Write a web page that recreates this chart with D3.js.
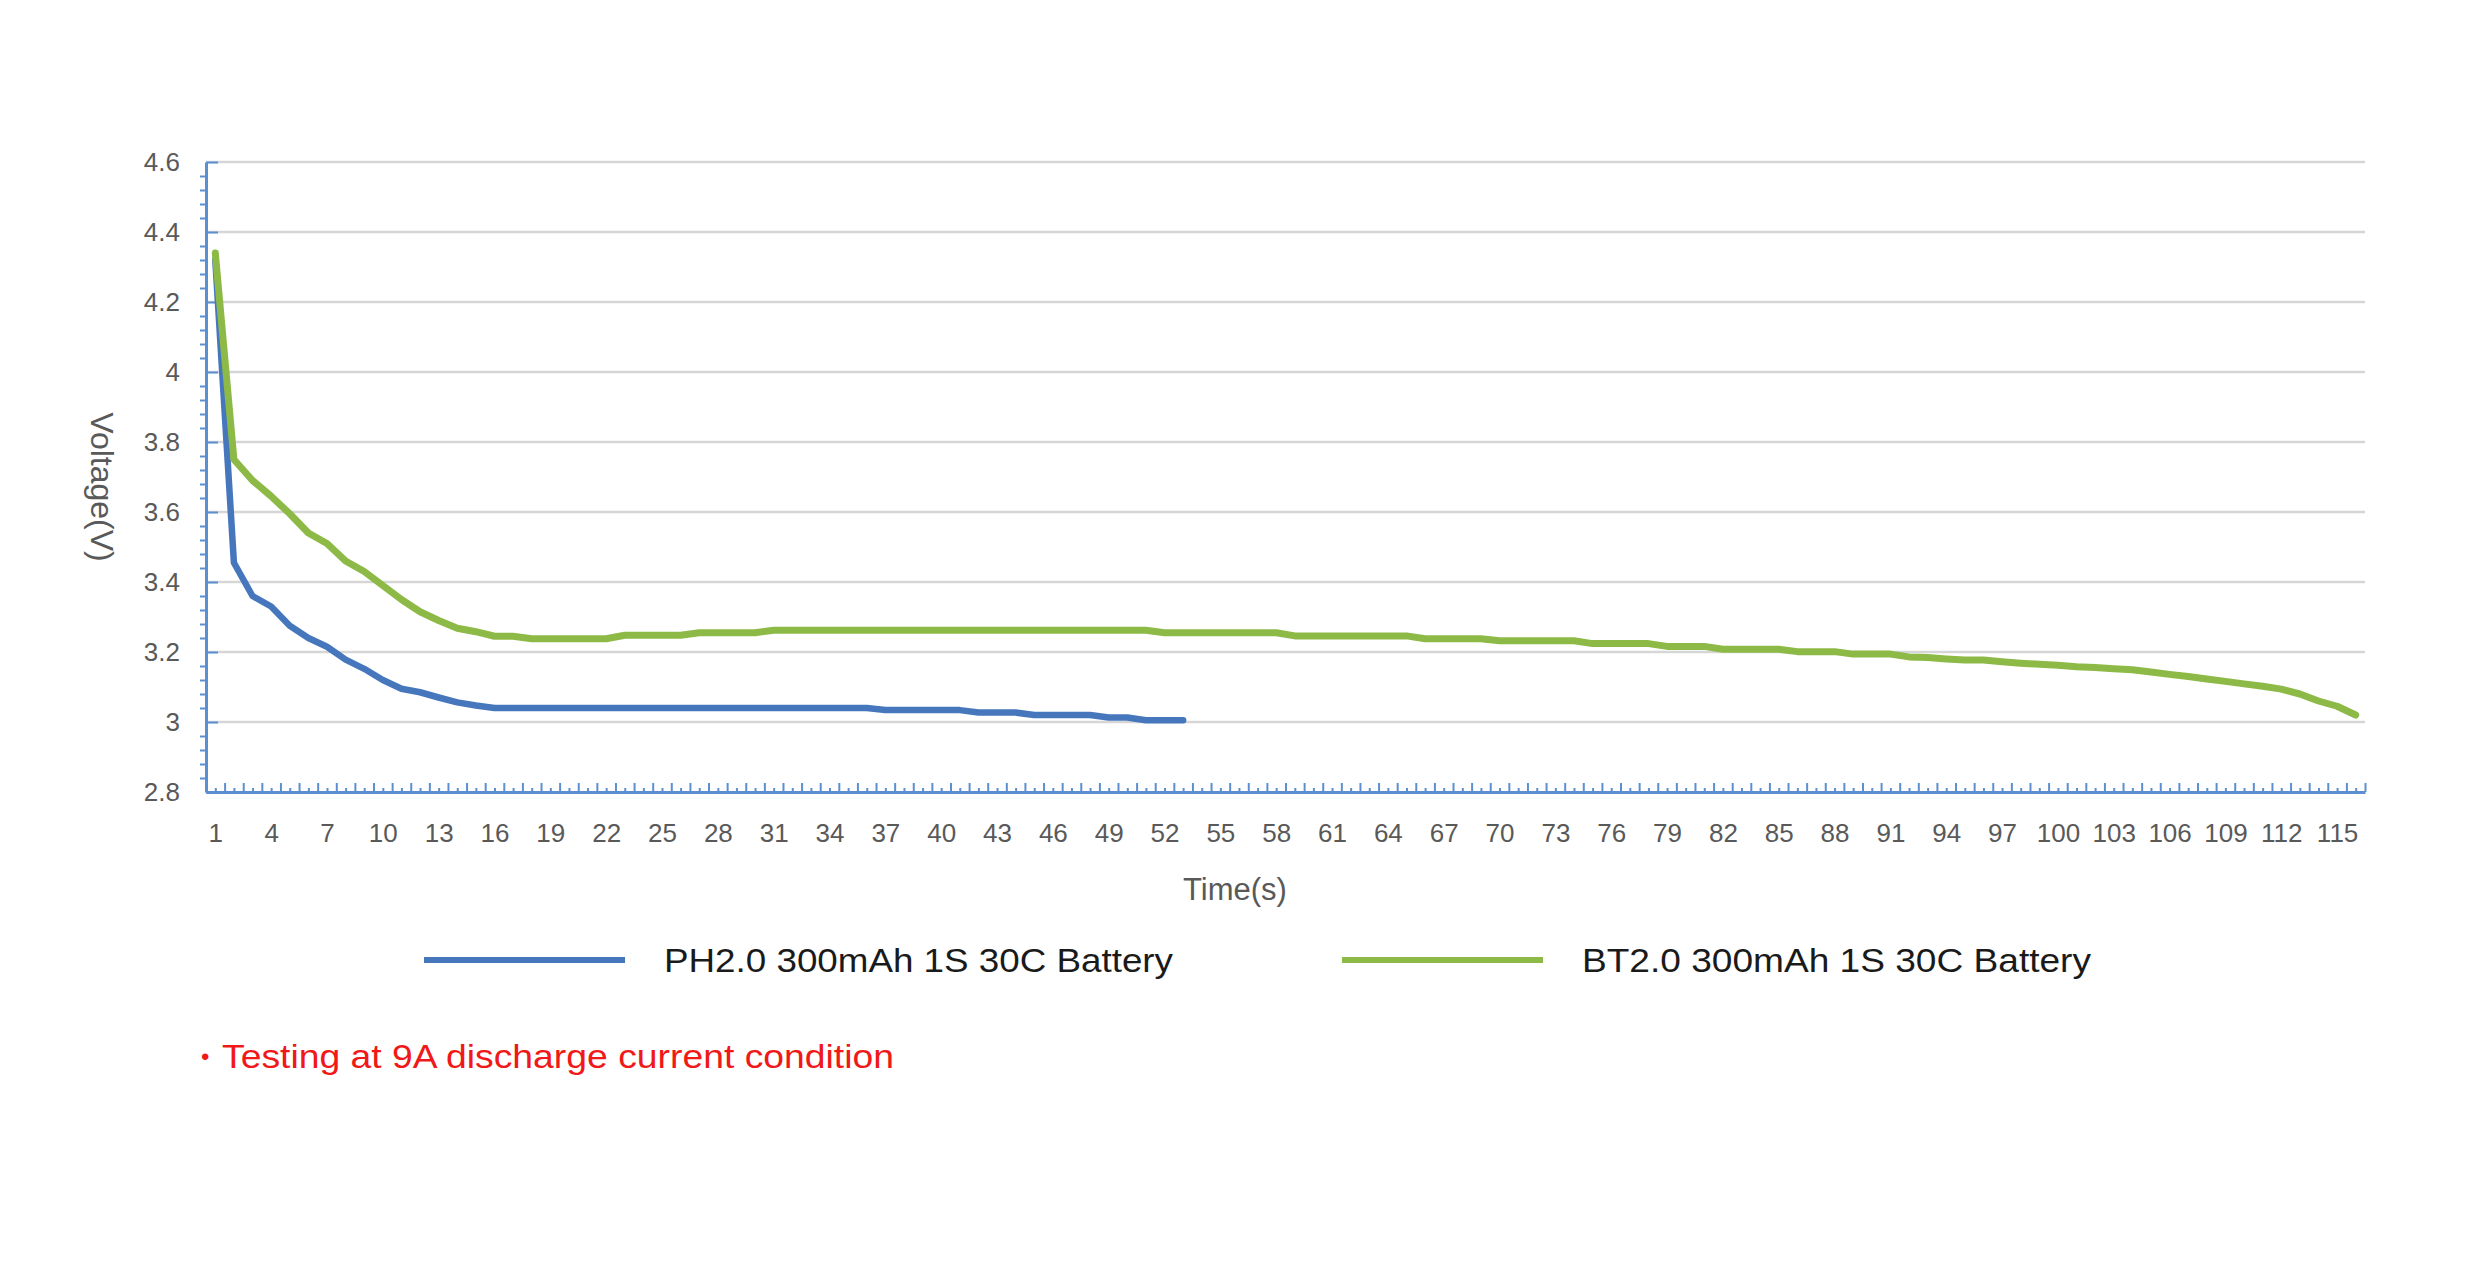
<!DOCTYPE html>
<html>
<head>
<meta charset="utf-8">
<script src="https://d3js.org/d3.v7.min.js"></script>
<style>
  body { margin: 0; background: #fff; }
  text { font-family: "Liberation Sans", Arial, sans-serif; }
</style>
</head>
<body>
<svg id="chart"></svg>
<script>
// time axis categories (seconds) and the labels Excel printed every 3rd one
const timeSeconds = d3.range(1, 117);
const xTickLabels = [1, 4, 7, 10, 13, 16, 19, 22, 25, 28, 31, 34, 37, 40, 43, 46, 49, 52, 55, 58,
  61, 64, 67, 70, 73, 76, 79, 82, 85, 88, 91, 94, 97, 100, 103, 106, 109, 112, 115];
const yTickValues = [2.8, 3, 3.2, 3.4, 3.6, 3.8, 4, 4.2, 4.4, 4.6];

const seriesNames = ["PH2.0 300mAh 1S 30C Battery", "BT2.0 300mAh 1S 30C Battery"];

// PH2.0 battery, 53 samples
const ph20Voltage = [
  4.32, 3.455, 3.36, 3.33, 3.275, 3.24, 3.215, 3.178, 3.152, 3.12,
  3.095, 3.085, 3.07, 3.056, 3.047, 3.04, 3.04, 3.04, 3.04, 3.04,
  3.04, 3.04, 3.04, 3.04, 3.04, 3.04, 3.04, 3.04, 3.04, 3.04,
  3.04, 3.04, 3.04, 3.04, 3.04, 3.04, 3.034, 3.034, 3.034, 3.034,
  3.034, 3.027, 3.027, 3.027, 3.02, 3.02, 3.02, 3.02, 3.013, 3.013,
  3.005, 3.005, 3.005
];

// BT2.0 battery, 116 samples
const bt20Voltage = [
  4.34, 3.75, 3.69, 3.645, 3.595, 3.54, 3.51, 3.46, 3.43, 3.39,
  3.35, 3.315, 3.29, 3.268, 3.258, 3.245, 3.245, 3.238, 3.238, 3.238,
  3.238, 3.238, 3.248, 3.248, 3.248, 3.248, 3.255, 3.255, 3.255, 3.255,
  3.262, 3.262, 3.262, 3.262, 3.262, 3.262, 3.262, 3.262, 3.262, 3.262,
  3.262, 3.262, 3.262, 3.262, 3.262, 3.262, 3.262, 3.262, 3.262, 3.262,
  3.262, 3.255, 3.255, 3.255, 3.255, 3.255, 3.255, 3.255, 3.246, 3.246,
  3.246, 3.246, 3.246, 3.246, 3.246, 3.238, 3.238, 3.238, 3.238, 3.232,
  3.232, 3.232, 3.232, 3.232, 3.224, 3.224, 3.224, 3.224, 3.216, 3.216,
  3.216, 3.208, 3.208, 3.208, 3.208, 3.201, 3.201, 3.201, 3.194, 3.194,
  3.194, 3.186, 3.184, 3.18, 3.177, 3.177, 3.172, 3.168, 3.165, 3.162,
  3.158, 3.156, 3.152, 3.149, 3.143, 3.136, 3.13, 3.123, 3.116, 3.109,
  3.102, 3.094, 3.08, 3.06, 3.045, 3.02
];

const width = 2480, height = 1276;
const margin = { top: 162, right: 115, bottom: 484, left: 206 };
const plotRight = width - margin.right;
const plotBottom = height - margin.bottom;

const blue = "#4677bd", green = "#8dba46", axisBlue = "#5b8fd2", labelGrey = "#595959";

const svg = d3.select("#chart").attr("width", width).attr("height", height);

const x = d3.scaleLinear().domain([0.5, timeSeconds.length + 0.5]).range([margin.left, plotRight]);
const y = d3.scaleLinear().domain([2.8, 4.6]).range([plotBottom, margin.top]);

// gridlines
svg.append("g").selectAll("line").data(yTickValues.slice(1)).join("line")
  .attr("x1", margin.left).attr("x2", plotRight)
  .attr("y1", d => y(d)).attr("y2", d => y(d))
  .attr("stroke", "#d6d6d6").attr("stroke-width", 2.5);

// y axis: major ticks point inside, minor ones outside
const yMinor = d3.range(0, 46).map(i => +(2.8 + i * 0.04).toFixed(2)).filter(v => !yTickValues.includes(v));
svg.append("g").attr("transform", `translate(${margin.left},0)`)
  .call(d3.axisLeft(y).tickValues(yMinor).tickSize(6).tickFormat(""))
  .call(g => g.select(".domain").remove());
const yAxis = svg.append("g").attr("transform", `translate(${margin.left},0)`)
  .call(d3.axisLeft(y).tickValues(yTickValues).tickSizeInner(-12).tickSizeOuter(0).tickPadding(26).tickFormat(d3.format("")));
yAxis.selectAll("text").style("font-size", "26px").attr("fill", labelGrey);

// x axis: boundary ticks + centre ticks, labels every 3rd second
const xBounds = d3.range(0, timeSeconds.length + 1).map(i => i + 0.5);
svg.append("g").attr("transform", `translate(0,${plotBottom})`)
  .call(d3.axisBottom(x).tickValues(timeSeconds).tickSize(-4).tickFormat(""))
  .call(g => g.select(".domain").remove());
svg.append("g").attr("transform", `translate(0,${plotBottom})`)
  .call(d3.axisBottom(x).tickValues(xBounds).tickSizeInner(-9).tickSizeOuter(0).tickFormat(""));
svg.append("g").attr("transform", `translate(0,${plotBottom})`)
  .call(d3.axisBottom(x).tickValues(xTickLabels).tickSize(0).tickPadding(32))
  .call(g => g.select(".domain").remove())
  .selectAll("text").style("font-size", "26px").attr("fill", labelGrey);

svg.selectAll(".tick line").attr("stroke", axisBlue).attr("stroke-width", 2);
svg.selectAll(".domain").attr("stroke", axisBlue).attr("stroke-width", 3);

// axis titles
svg.append("text").attr("transform", "translate(91,487) rotate(90)")
  .attr("text-anchor", "middle").style("font-size", "32px").attr("fill", labelGrey)
  .text("Voltage(V)");
svg.append("text").attr("x", 1235).attr("y", 900)
  .attr("text-anchor", "middle").style("font-size", "31px").attr("fill", labelGrey)
  .text("Time(s)");

// lines
const line = d3.line().x((d, i) => x(timeSeconds[i])).y(d => y(d));
svg.append("path").datum(ph20Voltage).attr("d", line)
  .attr("fill", "none").attr("stroke", blue).attr("stroke-width", 6.5)
  .attr("stroke-linejoin", "round").attr("stroke-linecap", "round");
svg.append("path").datum(bt20Voltage).attr("d", line)
  .attr("fill", "none").attr("stroke", green).attr("stroke-width", 7)
  .attr("stroke-linejoin", "round").attr("stroke-linecap", "round");

// legend
const legendItems = [
  { name: seriesNames[0], color: blue, x: 424 },
  { name: seriesNames[1], color: green, x: 1342 }
];
const legend = svg.append("g").attr("transform", "translate(0,960)");
legendItems.forEach(item => {
  legend.append("line").attr("x1", item.x).attr("x2", item.x + 201)
    .attr("stroke", item.color).attr("stroke-width", 6);
  legend.append("text").attr("x", item.x + 240).attr("y", 12)
    .style("font-size", "34px").attr("fill", "#1a1a1a")
    .attr("textLength", 509).attr("lengthAdjust", "spacingAndGlyphs")
    .text(item.name);
});

// note
svg.append("text").attr("x", 201).attr("y", 1065).style("font-size", "24px").attr("fill", "#f01818").text("•");
svg.append("text").attr("x", 222).attr("y", 1068).style("font-size", "34px").attr("fill", "#f01818")
  .attr("textLength", 672).attr("lengthAdjust", "spacingAndGlyphs")
  .text("Testing at 9A discharge current condition");
</script>
</body>
</html>
